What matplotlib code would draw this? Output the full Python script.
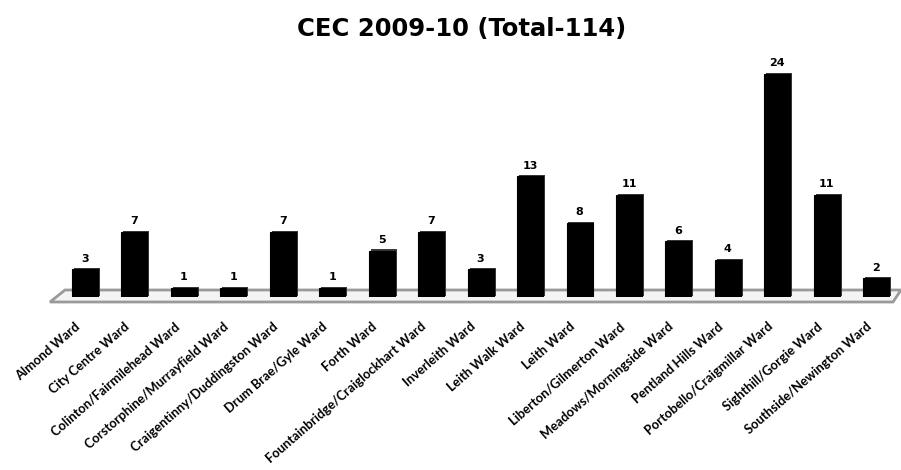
import matplotlib
matplotlib.use("Agg")
import matplotlib.pyplot as plt
from matplotlib.patches import Polygon

categories = ["Almond Ward", "City Centre Ward", "Colinton/Fairmilehead Ward",
              "Corstorphine/Murrayfield Ward", "Craigentinny/Duddingston Ward",
              "Drum Brae/Gyle Ward", "Forth Ward", "Fountainbridge/Craiglockhart Ward",
              "Inverleith Ward", "Leith Walk Ward", "Leith Ward",
              "Liberton/Gilmerton Ward", "Meadows/Morningside Ward",
              "Pentland Hills Ward", "Portobello/Craigmillar Ward",
              "Sighthill/Gorgie Ward", "Southside/Newington Ward"]
values = [3, 7, 1, 1, 7, 1, 5, 7, 3, 13, 8, 11, 6, 4, 24, 11, 2]
title = "CEC 2009-10 (Total-114)"

W, H = 901, 470
fig = plt.figure(figsize=(W / 100, H / 100), dpi=100)

# axes placement in pixels
px_per_unit_x = 49.45
x0_center = 85.0
left_px = x0_center - 0.5 * px_per_unit_x
base_px = 297.0
px_per_unit_y = (297.0 - 74.0) / 24.0
ymax = 26.0
top_px = base_px - ymax * px_per_unit_y
ax = fig.add_axes([left_px / W, (H - base_px) / H,
                   17 * px_per_unit_x / W, (base_px - top_px) / H])
ax.set_xlim(-0.5, 16.5)
ax.set_ylim(0, ymax)
ax.axis("off")

def px2data(xp, yp):
    return ((xp - x0_center) / px_per_unit_x, (base_px - yp) / px_per_unit_y)

# floor (3D platform)
floor_pts = [px2data(65, 290), px2data(901, 290), px2data(893, 302), px2data(50, 302)]
floor = Polygon(floor_pts, closed=True, facecolor="#f4f4f4", edgecolor="#9a9a9a",
                linewidth=2.0, clip_on=False, zorder=1)
ax.add_patch(floor)

x = list(range(len(categories)))
bw = 26 / px_per_unit_x
# depth/shadow side
ax.bar([xi + 0.04 for xi in x], values, width=bw, bottom=0.12, color="#3a3a3a",
       edgecolor="none", zorder=2)
bars = ax.bar(x, values, width=bw, color="black", edgecolor="black", linewidth=0.8, zorder=3)

for xi, v in zip(x, values):
    ax.annotate(str(v), (xi, v), xytext=(0, 4), textcoords="offset points",
                ha="center", va="bottom", fontsize=8, fontweight="bold",
                family="DejaVu Sans", zorder=4)

# category labels
_, ylab = px2data(0, 325)
for xi, c in zip(x, categories):
    ax.text(xi - 0.13, ylab, c, rotation=41, rotation_mode="anchor", ha="right", va="center",
            fontsize=9.3, fontweight="bold", family=["Lato", "DejaVu Sans"], clip_on=False)

fig.text(462 / W, 1 - 29 / H, title, ha="center", va="center",
         fontsize=17.5, fontweight="bold", family="DejaVu Sans")

fig.savefig("out.png", dpi=100, facecolor="white")
